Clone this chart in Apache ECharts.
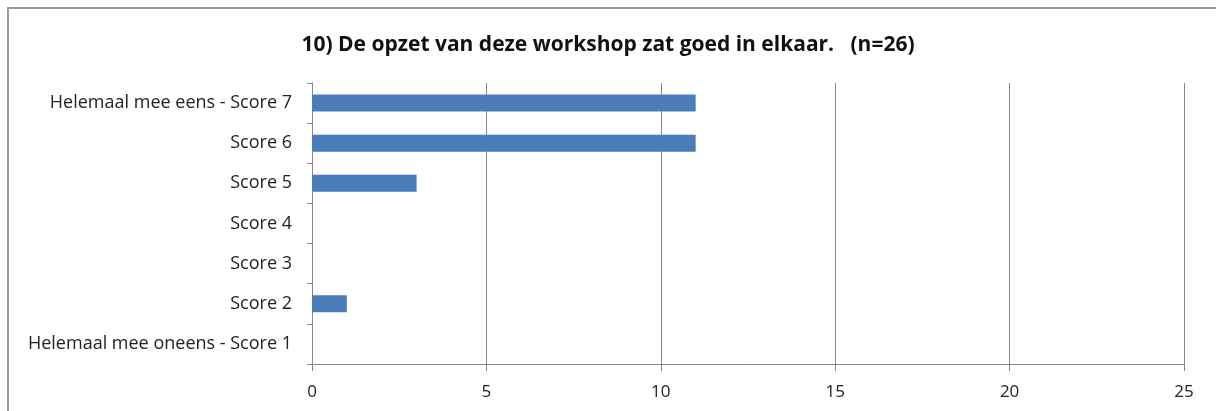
<!DOCTYPE html>
<html>
<head>
<meta charset="utf-8">
<script src="https://cdn.jsdelivr.net/npm/echarts@6/dist/echarts.min.js"></script>
<style>
html,body{margin:0;padding:0;background:#fff;}
#frame{position:absolute;left:7px;top:7px;width:1300px;height:500px;border-top:2px solid #9a9a9a;border-left:2px solid #9a9a9a;}
#chart{position:absolute;left:0;top:0;width:1216px;height:411px;}
</style>
</head>
<body>
<div id="frame"></div>
<div id="chart"></div>
<script>
var titleText = '10) De opzet van deze workshop zat goed in elkaar.   (n=26)';
var categories = [
  'Helemaal mee eens - Score 7',
  'Score 6',
  'Score 5',
  'Score 4',
  'Score 3',
  'Score 2',
  'Helemaal mee oneens - Score 1'
];
var values = [11, 11, 3, 0, 0, 1, 0];
var xMin = 0, xMax = 25, xStep = 5;

var chart = echarts.init(document.getElementById('chart'), null, {renderer: 'canvas'});
chart.setOption({
  backgroundColor: 'transparent',
  animation: false,
  title: {
    text: titleText,
    left: 'center',
    top: 30,
    textStyle: {fontFamily: 'Open Sans', fontWeight: 'bold', fontSize: 21, color: '#111'}
  },
  grid: {left: 312, right: 32, top: 83, bottom: 47, containLabel: false},
  xAxis: {
    type: 'value', min: xMin, max: xMax, interval: xStep,
    axisLine: {show: true, lineStyle: {color: '#888', width: 1}},
    axisTick: {show: true, length: 7, lineStyle: {color: '#888'}},
    axisLabel: {fontFamily: 'Open Sans', fontSize: 17, color: '#222', margin: 20},
    splitLine: {show: true, lineStyle: {color: '#888', width: 1}}
  },
  yAxis: {
    type: 'category', data: categories, inverse: true,
    axisLine: {show: true, lineStyle: {color: '#888', width: 1}},
    axisTick: {show: true, length: 5, alignWithLabel: false, lineStyle: {color: '#888'}},
    axisLabel: {fontFamily: 'Open Sans', fontSize: 18, color: '#222', margin: 20}
  },
  series: [{
    type: 'bar', data: values, barWidth: 17,
    itemStyle: {color: '#4A7EBB'}
  }]
});
</script>
</body>
</html>
